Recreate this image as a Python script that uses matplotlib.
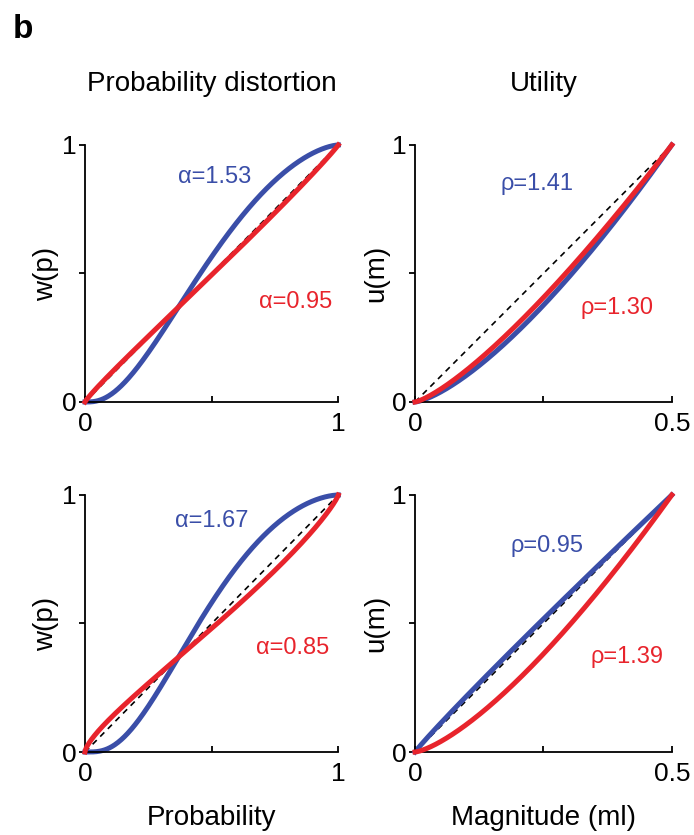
import matplotlib
matplotlib.use('Agg')
import matplotlib.pyplot as plt
from matplotlib import rcParams
import numpy as np

rcParams['font.family'] = ['Liberation Sans', 'DejaVu Sans']

# fitted parameters for the two subjects (blue, red) per row
alpha_blue = [1.53, 1.67]
alpha_red = [0.95, 0.85]
rho_blue = [1.41, 0.95]
rho_red = [1.30, 1.39]

prob_ticks = [0, 0.5, 1]
prob_ticklabels = ['0', '', '1']
mag_ticks = [0, 0.25, 0.5]
mag_ticklabels = ['0', '', '0.5']
w_ticks = [0, 0.5, 1]
w_ticklabels = ['0', '', '1']

# label positions in data coords [row] -> (x, y)
alpha_blue_pos = [(0.51, 0.875), (0.50, 0.90)]
alpha_red_pos = [(0.83, 0.39), (0.82, 0.405)]
rho_blue_pos = [(0.237, 0.85), (0.257, 0.80)]
rho_red_pos = [(0.393, 0.366), (0.412, 0.37)]

BLUE = '#3a4ea8'
RED = '#e8242c'
LW = 3.6

p = np.linspace(1e-6, 1, 400)
m = np.linspace(0, 0.5, 400)


def prelec(p, a):
    return np.exp(-(-np.log(p)) ** a)


def style(ax, xticks, xlabels, ylabel):
    ax.spines['top'].set_visible(False)
    ax.spines['right'].set_visible(False)
    ax.spines['left'].set_linewidth(1.3)
    ax.spines['bottom'].set_linewidth(1.3)
    ax.set_xticks(xticks)
    ax.set_xticklabels(xlabels)
    ax.set_yticks(w_ticks)
    ax.set_yticklabels(w_ticklabels)
    ax.tick_params(axis='x', direction='in', length=4, width=1.3, labelsize=19, pad=7)
    ax.tick_params(axis='y', direction='out', length=4, width=1.3, labelsize=19, pad=2)
    ax.set_ylabel(ylabel, fontsize=20, labelpad=2)
    ax.set_ylim(0, 1)


fig = plt.figure(figsize=(6.94, 8.35), dpi=100)

lefts = [0.1225, 0.598]
bottoms = [0.5186, 0.0994]
w = 0.365
h = 0.3078

for r in range(2):
    # probability distortion
    ax = fig.add_axes([lefts[0], bottoms[r], w, h])
    ax.plot([0, 1], [0, 1], '--', color='black', lw=1.2, dashes=(3.5, 3), zorder=1)
    ax.plot(p, prelec(p, alpha_blue[r]), color=BLUE, lw=LW, clip_on=False, zorder=2)
    ax.plot(p, prelec(p, alpha_red[r]), color=RED, lw=LW, clip_on=False, zorder=3)
    ax.set_xlim(0, 1)
    style(ax, prob_ticks, prob_ticklabels, 'w(p)')
    ax.text(*alpha_blue_pos[r], '\u03b1=%.2f' % alpha_blue[r], color=BLUE,
            fontsize=17, ha='center', va='center')
    ax.text(*alpha_red_pos[r], '\u03b1=%.2f' % alpha_red[r], color=RED,
            fontsize=17, ha='center', va='center')
    if r == 0:
        ax.set_title('Probability distortion', fontsize=20, pad=39)
    else:
        ax.set_xlabel('Probability', fontsize=20, labelpad=14)

    # utility
    ax = fig.add_axes([lefts[1], bottoms[r], w + 0.005, h])
    ax.plot([0, 0.5], [0, 1], '--', color='black', lw=1.2, dashes=(3.5, 3), zorder=1)
    ax.plot(m, (m / 0.5) ** rho_blue[r], color=BLUE, lw=LW, clip_on=False, zorder=2)
    ax.plot(m, (m / 0.5) ** rho_red[r], color=RED, lw=LW, clip_on=False, zorder=3)
    ax.set_xlim(0, 0.5)
    style(ax, mag_ticks, mag_ticklabels, 'u(m)')
    ax.text(*rho_blue_pos[r], '\u03c1=%.2f' % rho_blue[r], color=BLUE,
            fontsize=17, ha='center', va='center')
    ax.text(*rho_red_pos[r], '\u03c1=%.2f' % rho_red[r], color=RED,
            fontsize=17, ha='center', va='center')
    if r == 0:
        ax.set_title('Utility', fontsize=20, pad=39)
    else:
        ax.set_xlabel('Magnitude (ml)', fontsize=20, labelpad=14)

fig.text(0.018, 0.983, 'b', fontsize=24, fontweight='bold', va='top', ha='left')

fig.savefig('out.png', dpi=100)
